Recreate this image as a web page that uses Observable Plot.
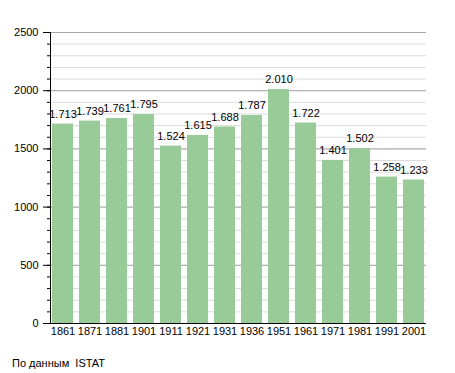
<!DOCTYPE html>
<html>
<head>
<meta charset="utf-8">
<script src="https://cdn.jsdelivr.net/npm/d3@7"></script>
<script src="https://cdn.jsdelivr.net/npm/@observablehq/plot@0.6"></script>
<style>
  body { margin: 0; background: #fff; font-family: "Liberation Sans", Arial, sans-serif; }
  #caption { font-size: 11px; line-height: 13px; padding: 12px 0 0 12px; color: #000; }
</style>
</head>
<body>
<div id="chart"></div>
<div id="caption">По данным&nbsp; ISTAT</div>
<script>
const years = ["1861","1871","1881","1901","1911","1921","1931","1936","1951","1961","1971","1981","1991","2001"];
const values = [1713,1739,1761,1795,1524,1615,1688,1787,2010,1722,1401,1502,1258,1233];
const majorTicks = [0, 500, 1000, 1500, 2000, 2500];
const minorTicks = d3.range(0, 2501, 100);

const data = years.map((year, i) => ({year, value: values[i]}));
const fmt = d3.formatLocale({decimal: ",", thousands: ".", grouping: [3], currency: ["", ""]}).format(",");

const chart = Plot.plot({
  width: 455,
  height: 345,
  marginTop: 32,
  marginBottom: 22,
  marginLeft: 50,
  marginRight: 29,
  style: {fontFamily: "Liberation Sans, Arial, sans-serif", fontSize: "11px", color: "#000", background: "#fff"},
  x: {domain: years, paddingInner: 0.23, paddingOuter: 0, label: null},
  y: {domain: [0, 2500], label: null},
  marks: [
    Plot.ruleY(minorTicks, {stroke: "#dcdcdc", strokeWidth: 1}),
    Plot.ruleY(majorTicks, {stroke: "#a8a8a8", strokeWidth: 1}),
    Plot.barY(data, {x: "year", y: "value", fill: "#98cb98"}),
    Plot.text(data, {x: "year", y: "value", text: d => fmt(d.value), dy: -10, fontSize: 11, fill: "#000"}),
    Plot.axisY(minorTicks, {tickSize: 3, tickFormat: () => "", stroke: "#000"}),
    Plot.axisY(majorTicks, {tickSize: 7, tickPadding: 5, tickFormat: d => String(d), stroke: "#000", fontSize: 11}),
    Plot.axisX({tickSize: 0, tickPadding: 4, fontSize: 11}),
    Plot.frame({anchor: "left", stroke: "#000"}),
    Plot.ruleY([0], {stroke: "#000"})
  ]
});
document.getElementById("chart").appendChild(chart);
</script>
</body>
</html>
